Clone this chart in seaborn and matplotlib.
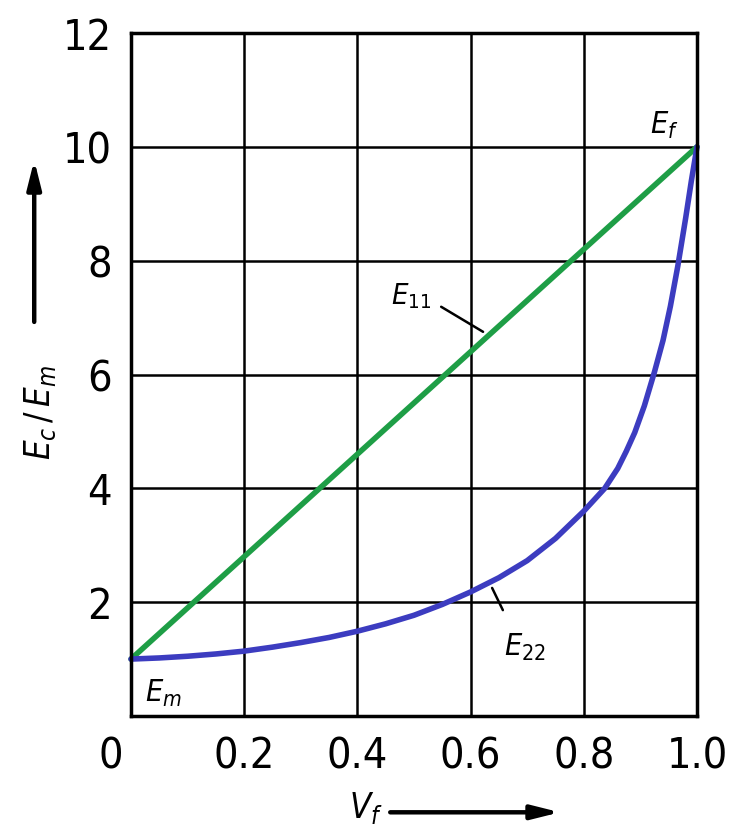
import matplotlib
matplotlib.use("Agg")
import matplotlib.pyplot as plt
import matplotlib.transforms as mtransforms
import seaborn as sns
import pandas as pd

# values
vf_e11 = [0.0, 1.0]
e11 = [1.0, 10.0]

vf_e22 = [0.0, 0.05, 0.1, 0.15, 0.2, 0.25, 0.3, 0.35, 0.4, 0.45, 0.5, 0.55, 0.6,
          0.65, 0.7, 0.75, 0.8, 0.837, 0.86, 0.875, 0.89, 0.907, 0.925, 0.94,
          0.953, 0.966, 0.98, 0.99, 1.0]
e22 = [1.0, 1.02, 1.05, 1.09, 1.14, 1.21, 1.29, 1.38, 1.49, 1.62, 1.77, 1.96, 2.18,
       2.43, 2.73, 3.12, 3.6, 4.0, 4.35, 4.65, 4.98, 5.45, 6.05, 6.6,
       7.2, 7.9, 8.75, 9.4, 10.0]

x_ticks = [0, 0.2, 0.4, 0.6, 0.8, 1.0]
x_labels = ["0", "0.2", "0.4", "0.6", "0.8", "1.0"]
y_ticks = [0, 2, 4, 6, 8, 10, 12]
y_labels = ["", "2", "4", "6", "8", "10", "12"]

df11 = pd.DataFrame({"Vf": vf_e11, "E": e11})
df22 = pd.DataFrame({"Vf": vf_e22, "E": e22})

sns.set_theme(style="white")
plt.rcParams["font.family"] = ["DejaVu Sans"]
plt.rcParams["font.stretch"] = "condensed"
plt.rcParams["mathtext.fontset"] = "dejavusans"
plt.rcParams["text.color"] = "black"

fig = plt.figure(figsize=(7.4, 8.27), dpi=100)
ax = fig.add_axes([131 / 740, 111 / 827, 566 / 740, 683 / 827])

sns.lineplot(data=df11, x="Vf", y="E", ax=ax, color="#1e9e46", lw=4, clip_on=False)
sns.lineplot(data=df22, x="Vf", y="E", ax=ax, color="#3c3cc0", lw=4, clip_on=False)

ax.set_xlim(0, 1.0)
ax.set_ylim(0, 12)
ax.set_xticks(x_ticks)
ax.set_xticklabels(x_labels)
ax.set_yticks(y_ticks)
ax.set_yticklabels(y_labels)
ax.grid(True, color="black", lw=1.8)
ax.set_axisbelow(True)
for s in ax.spines.values():
    s.set_visible(True)
    s.set_color("black")
    s.set_linewidth(2.5)
ax.tick_params(axis="both", length=0, labelsize=31, colors="black")
ax.tick_params(axis="y", pad=14)
ax.tick_params(axis="x", pad=14)
ax.set_xlabel("")
ax.set_ylabel("")

# "0" sits left of the axis corner in the reference
lab0 = ax.get_xticklabels()[0]
lab0.set_transform(lab0.get_transform() +
                   mtransforms.ScaledTranslation(-0.2, 0, fig.dpi_scale_trans))

# curve labels
ax.text(0.495, 7.38, r"$E_{11}$", fontsize=21, ha="center", va="center")
ax.plot([0.548, 0.622], [7.19, 6.75], color="black", lw=1.8)
ax.text(0.696, 1.21, r"$E_{22}$", fontsize=22, ha="center", va="center")
ax.plot([0.638, 0.657], [2.25, 1.86], color="black", lw=1.8)
ax.text(0.943, 10.38, r"$E_f$", fontsize=22, ha="center", va="center")
ax.text(0.057, 0.40, r"$E_m$", fontsize=22, ha="center", va="center")

# axis titles with arrows
ax.text(-0.16, 0.444, r"$E_c\,/\,E_m$", fontsize=25, rotation=90,
        ha="center", va="center", transform=ax.transAxes)
ax.annotate("", xy=(-0.171, 0.814), xytext=(-0.171, 0.577), xycoords="axes fraction",
            arrowprops=dict(arrowstyle="-|>,head_length=1.4,head_width=0.35",
                            lw=3.2, color="black", shrinkA=0, shrinkB=0),
            annotation_clip=False)
ax.text(0.415, -0.135, r"$V_f$", fontsize=25, ha="center", va="center",
        transform=ax.transAxes)
ax.annotate("", xy=(0.758, -0.141), xytext=(0.458, -0.141), xycoords="axes fraction",
            arrowprops=dict(arrowstyle="-|>,head_length=1.4,head_width=0.35",
                            lw=3.2, color="black", shrinkA=0, shrinkB=0),
            annotation_clip=False)

fig.savefig("out.png", dpi=100, facecolor="white")
